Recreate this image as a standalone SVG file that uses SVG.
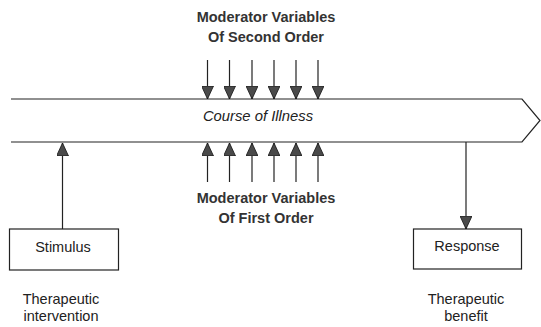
<svg xmlns="http://www.w3.org/2000/svg" width="541" height="327" viewBox="0 0 541 327">
<style>
.t{font-family:"Liberation Sans",Arial,sans-serif;fill:#222;text-anchor:middle}
.h{font-weight:bold;font-size:14.5px;fill:#333}
.n{font-size:14.5px}
.c{font-size:14.8px;font-style:italic}
.ln{stroke:#222;stroke-width:1.2;fill:none}
.box{fill:#fff;stroke:#222;stroke-width:1.2}
</style>
<defs>
<marker id="ah" viewBox="0 0 13 12" refX="13" refY="6" markerWidth="13" markerHeight="12" markerUnits="userSpaceOnUse" orient="auto">
<path d="M0,0 L13,6 L0,12 z" fill="#4a4a4a" stroke="#111" stroke-width="0.8"/>
</marker>
</defs>
<g id="course">
<path class="ln" d="M11,99 L522,99 L540,120.5 L522,142 L11,142" fill="#fff"/>
<text class="t c" x="258" y="121">Course of Illness</text>
</g>
<g id="second-order">
<text class="t h" x="266" y="22">Moderator Variables</text>
<text class="t h" x="266" y="42">Of Second Order</text>
</g>
<g id="first-order">
<text class="t h" x="266" y="203">Moderator Variables</text>
<text class="t h" x="266" y="223">Of First Order</text>
</g>
<g id="stimulus">
<rect class="box" x="9.5" y="229" width="109" height="41"/>
<text class="t n" x="63" y="252">Stimulus</text>
<text class="t n" x="61" y="304">Therapeutic</text>
<text class="t n" x="61" y="321">intervention</text>
</g>
<g id="response">
<rect class="box" x="413.5" y="229" width="108" height="40"/>
<text class="t n" x="467" y="251">Response</text>
<text class="t n" x="466" y="304">Therapeutic</text>
<text class="t n" x="466" y="321">benefit</text>
</g>
<g id="connectors">
<path class="ln" d="M207.5,60 V99" marker-end="url(#ah)"/>
<path class="ln" d="M229.5,60 V99" marker-end="url(#ah)"/>
<path class="ln" d="M252,60 V99" marker-end="url(#ah)"/>
<path class="ln" d="M274,60 V99" marker-end="url(#ah)"/>
<path class="ln" d="M296,60 V99" marker-end="url(#ah)"/>
<path class="ln" d="M318,60 V99" marker-end="url(#ah)"/>
<path class="ln" d="M207.5,182 V143" marker-end="url(#ah)"/>
<path class="ln" d="M229.5,182 V143" marker-end="url(#ah)"/>
<path class="ln" d="M252,182 V143" marker-end="url(#ah)"/>
<path class="ln" d="M274,182 V143" marker-end="url(#ah)"/>
<path class="ln" d="M296,182 V143" marker-end="url(#ah)"/>
<path class="ln" d="M318,182 V143" marker-end="url(#ah)"/>
<path class="ln" d="M62.5,229 V143" marker-end="url(#ah)"/>
<path class="ln" d="M466,142 V229" marker-end="url(#ah)"/>
</g>
</svg>
